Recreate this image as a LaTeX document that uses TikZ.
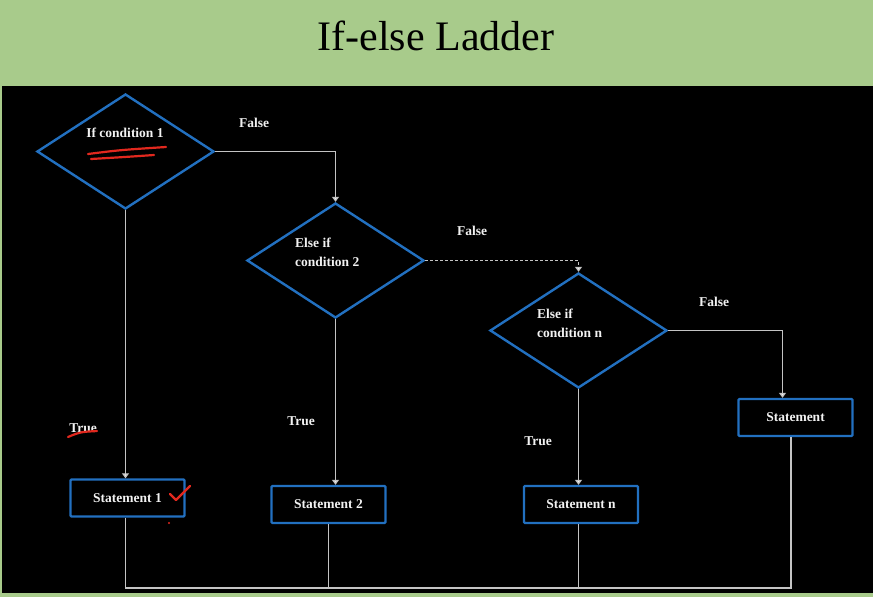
\documentclass[tikz,border=0pt]{standalone}
\usepackage{fontspec}
\setmainfont{Liberation Serif}
\usetikzlibrary{shapes.geometric,arrows.meta}
\definecolor{slidegreen}{RGB}{168,203,139}
\definecolor{boxblue}{RGB}{34,112,192}
\definecolor{linegray}{RGB}{196,196,196}
\definecolor{inkred}{RGB}{225,40,30}

\tikzset{
	decision/.style={diamond, draw=boxblue, line width=2.4pt, inner sep=0pt, minimum width=177pt, minimum height=115pt},
	statebox/.style={rectangle, draw=boxblue, line width=2.4pt, minimum width=114pt, minimum height=37pt, rounded corners=1pt, txt},
	conn/.style={draw=linegray, line width=1.8pt},
	flow/.style={conn, -{Triangle[length=5pt,width=7pt,fill=white]}},
	txt/.style={text=white!90!gray, font=\bfseries\fontsize{13.5}{19}\selectfont},
	ink/.style={draw=inkred, line width=2.2pt, line cap=round, line join=round},
}

\begin{document}
\begin{tikzpicture}[x=1pt,y=-1pt]

	% slide background and dark panel
	\fill[slidegreen] (0,0) rectangle (873,597);
	\fill[black] (2,86) rectangle (873,593);
	\node[inner sep=0pt, font=\fontsize{42}{46}\selectfont] (title) at (436,36) {If-else Ladder};

	% decisions
	\node[decision] (d1) at (125.5,151.5) {};
	\node[decision] (d2) at (335.5,260.5) {};
	\node[decision] (d3) at (578.5,330.5) {};

	\node[txt, inner sep=0pt] (c1) at (125,133) {If condition 1};
	\node[txt, inner sep=0pt, align=left, anchor=west] (c2) at (295,252) {Else if\\condition 2};
	\node[txt, inner sep=0pt, align=left, anchor=west] (c3) at (537,323) {Else if\\condition n};

	% statements
	\node[statebox] (s1) at (127.5,498) {Statement 1};
	\node[statebox] (s2) at (328.5,504.5) {Statement 2};
	\node[statebox] (sn) at (581,504.5) {Statement n};
	\node[statebox] (s4) at (795.5,417.5) {Statement};

	% connectors
	\draw[flow] (d1.south) -- (d1.south |- s1.north);
	\draw[flow] (d1.east) -| (d2.north);
	\draw[flow, dash pattern=on 3pt off 2pt] (d2.east) -| (d3.north);
	\draw[flow] (d3.east) -| ([xshift=-13pt]s4.north);
	\draw[flow] (d2.south) -- (d2.south |- s2.north);
	\draw[flow] (d3.south) -- (d3.south |- sn.north);

	\coordinate (join) at (791,588);
	\draw[conn] (d1.south |- s1.south) |- (join) -- ([xshift=-4.5pt]s4.south);
	\draw[conn] (s2.south) -- (s2.south |- join);
	\draw[conn] (d3.south |- sn.south) -- (d3.south |- join);

	% branch labels
	\node[txt] (f1) at (254,123) {False};
	\node[txt] (f2) at (472,231) {False};
	\node[txt] (f3) at (714,302) {False};
	\node[txt] (t1) at (83,428) {True};
	\node[txt] (t2) at (301,421) {True};
	\node[txt] (t3) at (538,441) {True};

	% red pen marks
	\draw[ink] (88,154) .. controls (120,150) .. (166,147);
	\draw[ink] (91,159) .. controls (125,157) .. (154,155);
	\draw[ink] (68,437) .. controls (80,432) .. (97,431);
	\draw[ink] (170,494) -- (176,500) -- (190,486);
	\fill[inkred] (169,523) circle (1.2pt);

\end{tikzpicture}
\end{document}
